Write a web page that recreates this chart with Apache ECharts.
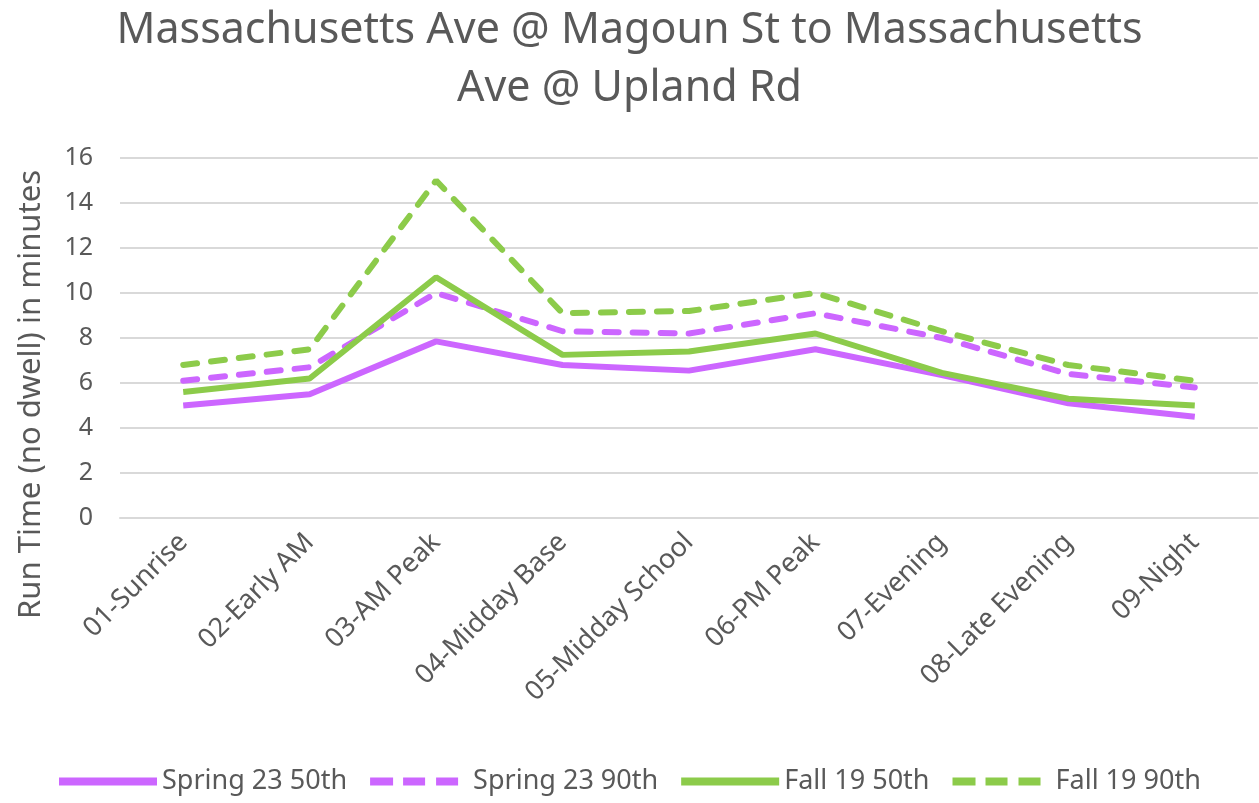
<!DOCTYPE html>
<html>
<head>
<meta charset="utf-8">
<script src="https://cdn.jsdelivr.net/npm/echarts@6/dist/echarts.min.js"></script>
<style>
	html, body { margin: 0; padding: 0; background: #fff; }
	#chart { width: 1259px; height: 803px; }
</style>
</head>
<body>
<div id="chart"></div>
<script>
// 时段
const categories = ['01-Sunrise', '02-Early AM', '03-AM Peak', '04-Midday Base', '05-Midday School',
	'06-PM Peak', '07-Evening', '08-Late Evening', '09-Night'];
// 各系列运行时间（分钟）
const spring23p50 = [5.0, 5.5, 7.85, 6.8, 6.55, 7.5, 6.35, 5.1, 4.5];
const spring23p90 = [6.1, 6.7, 10.0, 8.3, 8.2, 9.1, 8.0, 6.4, 5.8];
const fall19p50 = [5.6, 6.2, 10.7, 7.25, 7.4, 8.2, 6.45, 5.3, 5.0];
const fall19p90 = [6.8, 7.5, 15.0, 9.1, 9.2, 10.0, 8.3, 6.8, 6.1];
const seriesNames = ['Spring 23 50th', 'Spring 23 90th', 'Fall 19 50th', 'Fall 19 90th'];

const purple = '#CC66FF';
const green = '#8CCB4A';
const textColor = '#595959';
const font = "'Noto Sans', sans-serif";

// 图例图标（实线 / 虚线，虚线右侧留空）
const solidIcon = 'path://M0,0H98V8H0Z';
const dashIcon = 'path://M0,0H23V8H0Z M33,0H55V8H33Z M66,0H88V8H66Z M97.9,3.9H98V4H97.9Z';

const chart = echarts.init(document.getElementById('chart'));

function lineSeries(name, data, color, dashed) {
	return {
		name: name,
		type: 'line',
		data: data,
		symbol: 'none',
		color: color,
		lineStyle: {
			color: color,
			width: 6,
			cap: dashed ? 'round' : 'butt',
			type: dashed ? [14, 14] : 'solid'
		}
	};
}

const option = {
	animation: false,
	title: {
		text: 'Massachusetts Ave @ Magoun St to Massachusetts\nAve @ Upland Rd',
		left: 'center',
		top: -3,
		textStyle: {
			fontFamily: font,
			fontWeight: 'normal',
			fontSize: 43,
			lineHeight: 58,
			color: textColor
		}
	},
	grid: {
		left: 120,
		right: 1,
		top: 158,
		bottom: 285
	},
	legend: {
		top: 763,
		left: 54,
		itemWidth: 98,
		itemHeight: 8,
		itemGap: 23,
		data: [
			{ name: seriesNames[0], icon: solidIcon },
			{ name: seriesNames[1], icon: dashIcon },
			{ name: seriesNames[2], icon: solidIcon },
			{ name: seriesNames[3], icon: dashIcon }
		],
		textStyle: {
			fontFamily: font,
			fontSize: 27,
			color: textColor
		}
	},
	graphic: [{
		// 纵轴标题
		type: 'text',
		left: 16,
		top: 170,
		style: {
			text: 'Run Time (no dwell) in minutes',
			fontFamily: font,
			fontSize: 31,
			fill: textColor
		},
		rotation: Math.PI / 2
	}],
	xAxis: {
		type: 'category',
		data: categories,
		boundaryGap: true,
		axisLine: { lineStyle: { color: '#d9d9d9', width: 2 } },
		axisTick: { show: false },
		axisLabel: {
			rotate: 45,
			margin: 20,
			interval: 0,
			fontFamily: font,
			fontSize: 27,
			color: textColor
		}
	},
	yAxis: {
		type: 'value',
		min: 0,
		max: 16,
		interval: 2,
		axisLine: { show: false },
		axisTick: { show: false },
		axisLabel: {
			margin: 27,
			fontFamily: font,
			fontSize: 25,
			color: textColor
		},
		splitLine: { lineStyle: { color: '#d9d9d9', width: 2 } }
	},
	series: [
		lineSeries(seriesNames[0], spring23p50, purple, false),
		lineSeries(seriesNames[1], spring23p90, purple, true),
		lineSeries(seriesNames[2], fall19p50, green, false),
		lineSeries(seriesNames[3], fall19p90, green, true)
	]
};

chart.setOption(option);
</script>
</body>
</html>
